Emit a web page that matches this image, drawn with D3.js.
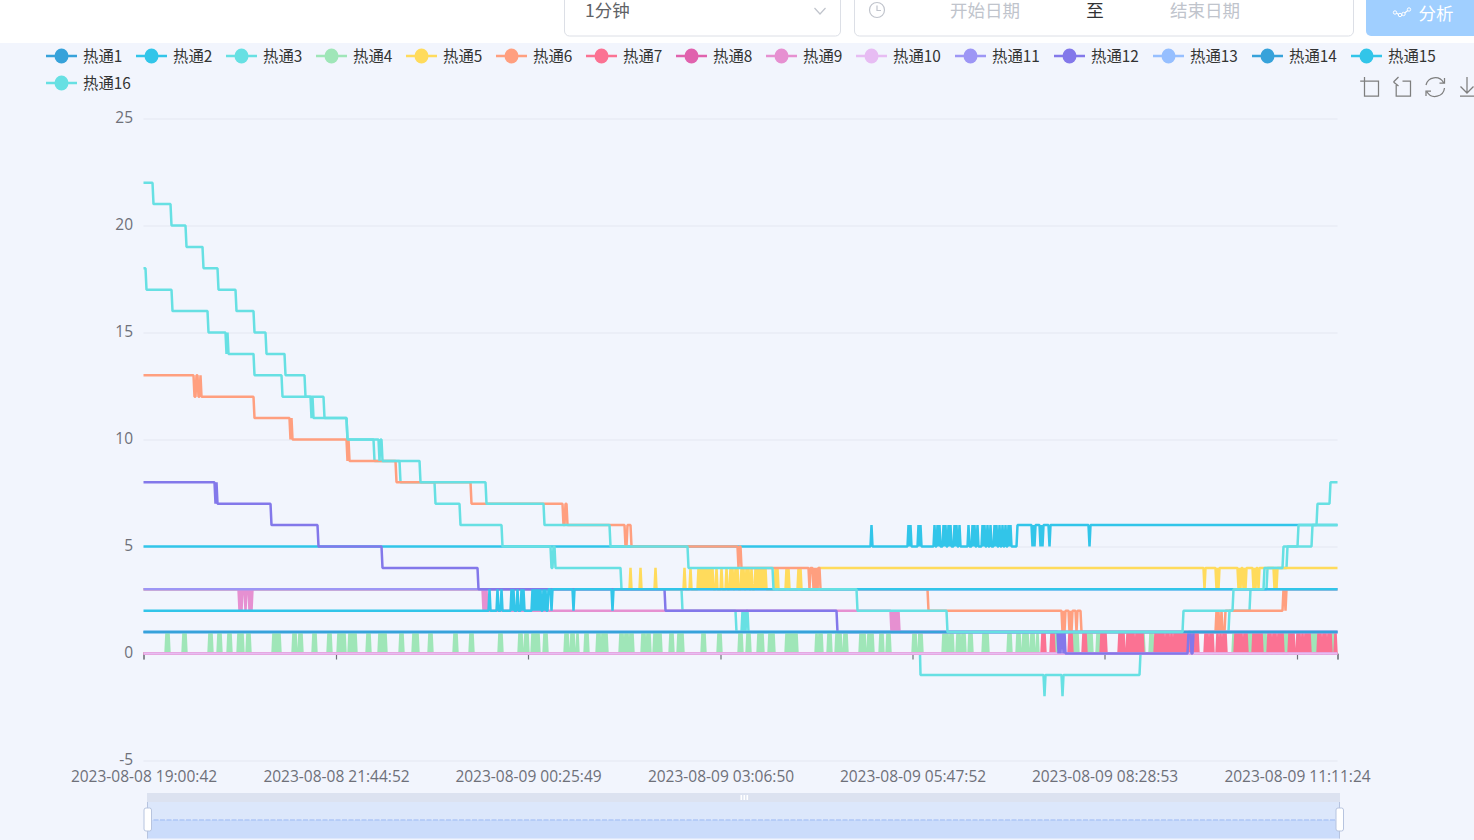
<!DOCTYPE html>
<html lang="zh"><head><meta charset="utf-8">
<script src="https://cdn.jsdelivr.net/npm/d3@7"></script>
<style>
html,body{margin:0;padding:0;background:#f2f5fd;overflow:hidden}
svg{display:block}
text{font-family:"Noto Sans CJK SC","Open Sans",sans-serif}
.num text,text.num{font-family:"Open Sans","Noto Sans CJK SC",sans-serif}
</style></head><body><svg id="c" width="1474" height="840"></svg>
<script>
// ---- data (sample index along the category axis) ----
// *Runs: [index, value] value held until the next change
// *Pulses: [from, to] stretches where the signal chatters between two levels
const seriesNames = ["热通1","热通2","热通3","热通4","热通5","热通6","热通7","热通8","热通9","热通10","热通11","热通12","热通13","热通14","热通15","热通16"];
const seriesColors = ["#37a2da","#32c5e9","#67e0e3","#9fe6b8","#ffdb5c","#ff9f7f","#fb7293","#e062ae","#e690d1","#e7bcf3","#9d96f5","#8378ea","#96bfff","#37a2da","#32c5e9","#67e0e3"];
const yTicks = [-5,0,5,10,15,20,25];
const sampleCount = 1194;
const xTickIndex = [0,192.5,384.5,577,769,961,1153.5,1194];
const xTickLabels = ["2023-08-08 19:00:42","2023-08-08 21:44:52","2023-08-09 00:25:49","2023-08-09 03:06:50","2023-08-09 05:47:52","2023-08-09 08:28:53","2023-08-09 11:11:24",""];

const hot1Runs = [[0,1]];
const hot2Up = [[727,729],[764,767],[774,777],[790,792],[793,796],[799,802],[804,808],[810,813],[815,817],[824,826],[828,831],[833,835],[838,841],[843,845],[846,848],[850,853],[855,857],[858,860],[861,863],[864,867]];
const hot2Down = [[888,891],[896,899],[905,907],[945,946]];
const hot3Runs = [[0,18],[2,17],[28,16],[64,15],[82,14],[83,15],[84,14],[110,13],[138,12],[167,11],[168,12],[169,11],[203,10],[230,9],[256,8],[291,7],[316,6],[358,5],[407,4],[409,5],[411,4],[477,3],[538,2],[592,1],[598,2],[599,1],[600,2],[601,1],[602,2],[604,1],[776,-1],[900,-2],[901,-1],[918,-2],[919,-1],[996,0],[1037,1],[1085,2],[1106,3],[1123,4],[1143,5],[1168,6],[1173,7],[1186,8]];
const hot4Pulses = [[22,25],[39,42],[65,68],[74,78],[84,87],[94,99],[103,107],[129,137],[149,152],[155,158],[169,172],[184,188],[194,201],[205,213],[223,227],[235,238],[239,243],[256,259],[269,274],[285,288],[310,313],[326,330],[355,359],[375,379],[381,385],[388,395],[400,404],[421,425],[427,431],[433,435],[441,444],[453,457],[458,464],[476,480],[481,485],[486,489],[498,502],[503,507],[510,518],[526,529],[534,540],[558,561],[574,577],[595,599],[603,606],[614,620],[625,631],[642,647],[648,653],[672,674],[675,679],[684,687],[692,697],[700,703],[716,721],[724,730],[736,740],[743,747],[769,773],[775,779],[799,804],[806,810],[813,817],[818,821],[825,829],[839,844],[864,867],[873,877],[879,885],[887,890],[893,895],[911,913],[929,934],[941,948],[953,956],[999,1000],[1006,1010],[1089,1091],[1104,1109],[1119,1123],[1139,1145],[1166,1173],[1188,1191]];
const hot5Up = [[486,488],[496,498],[511,513],[540,542],[546,548],[554,557],[558,561],[562,565],[566,569],[572,574],[577,579],[582,584],[586,590],[591,594],[597,601],[602,606],[607,609],[611,618],[619,623],[631,634],[642,645],[654,657]];
const hot5Down = [[1060,1062],[1072,1075],[1094,1097],[1099,1102],[1109,1112],[1114,1116],[1130,1133]];
const hot6RunsA = [[0,13],[50,12],[52,13],[54,12],[56,13],[57,12],[110,11],[146,10],[147,11],[148,10],[203,9],[204,10],[205,9],[252,8],[327,7],[419,6],[421,7],[423,6],[481,5],[483,6],[487,5],[594,4],[595,5],[597,4]];
const hot6Pulses4to3 = [[665,667],[669,672],[673,674]];
const hot6Pulses2to1 = [[918,922],[925,929],[932,934]];
const hot6Pulses1to2 = [[1072,1075],[1077,1079]];
const hot7Pulses = [[898,902],[907,910],[925,928],[939,942],[957,962],[975,980],[983,986],[987,990],[992,995],[996,999],[1011,1016],[1017,1021],[1022,1026],[1027,1029],[1030,1033],[1034,1039],[1040,1043],[1046,1049],[1051,1055],[1061,1064],[1066,1069],[1073,1075],[1076,1078],[1079,1083],[1091,1094],[1095,1099],[1100,1104],[1109,1112],[1113,1116],[1117,1119],[1124,1128],[1129,1133],[1134,1139],[1145,1151],[1153,1157],[1158,1160],[1161,1166],[1174,1178],[1179,1183],[1184,1188],[1191,1193]];
const hot8Runs = [[0,0]];
const hot9Pulses3to2 = [[95,99],[101,102],[105,108],[339,343]];
const hot9Pulses2to1 = [[747,755]];
const hot10Runs = [[0,0]];
const hot11Runs = [[0,3]];
const hot12Runs = [[0,8],[71,7],[72,8],[73,7],[127,6],[174,5],[238,4],[334,3],[521,2],[693,1],[914,0],[915,1],[916,0],[917,1],[919,0],[920,1],[921,0],[1044,1],[1047,0],[1049,1]];
const hot13Runs = [[0,1]];
const hot14Runs = [[0,1]];
const hot15Up = [[345,347],[353,354],[357,358],[367,371],[373,375],[377,380],[388,393],[394,398],[399,402]];
const hot15Down = [[407,408],[429,430],[468,469]];
const hot16Runs = [[0,22],[9,21],[27,20],[42,19],[59,18],[74,17],[92,16],[110,15],[122,14],[141,13],[161,12],[180,11],[203,10],[235,9],[236,10],[238,9],[276,8],[342,7],[400,6],[466,5],[544,4],[629,3],[713,2],[803,1],[1039,2],[1089,3],[1120,4],[1139,5],[1154,6]];

// ---- helpers ----
// one stretch of chatter: up and down every sample between base and peak
const pulseRuns = (list, base, peak) => {
  const runs = [];
  list.forEach(([a, b]) => {
    for (let k = a; k < b; k += 2) { runs.push([k, peak]); runs.push([k + 1, base]); }
  });
  return runs;
};
const toPoints = runs => {
  const pts = [];
  runs.forEach(([i, v], k) => {
    if (k > 0) pts.push([i, runs[k - 1][1]]);
    pts.push([i + 1, v]);
  });
  pts[0][0] = 0;
  pts.push([sampleCount, runs[runs.length - 1][1]]);
  return pts;
};
const allRuns = [
  hot1Runs,
  [[0,5], ...pulseRuns(hot2Up,5,6), [873,6], ...pulseRuns(hot2Down,6,5)],
  hot3Runs,
  [[0,0], ...pulseRuns(hot4Pulses,0,1)],
  [[0,3], ...pulseRuns(hot5Up,3,4), [674,4], ...pulseRuns(hot5Down,4,3)],
  [...hot6RunsA, ...pulseRuns(hot6Pulses4to3,4,3), [676,3], [784,2], ...pulseRuns(hot6Pulses2to1,2,1), [937,1], ...pulseRuns(hot6Pulses1to2,1,2), [1081,2], [1139,3], [1141,2], [1142,3]],
  [[0,0], ...pulseRuns(hot7Pulses,0,1)],
  hot8Runs,
  [[0,3], ...pulseRuns(hot9Pulses3to2,3,2), [343,2], ...pulseRuns(hot9Pulses2to1,2,1), [755,1]],
  hot10Runs, hot11Runs, hot12Runs, hot13Runs, hot14Runs,
  [[0,2], ...pulseRuns(hot15Up,2,3), [404,3], ...pulseRuns(hot15Down,3,2)],
  hot16Runs
];

// ---- layout ----
const svg = d3.select("#c");
const plotLeft = 143.5, plotRight = 1337.5, plotTop = 118.5, plotBottom = 760.5;
const x = d3.scaleLinear().domain([0, sampleCount]).range([plotLeft, plotRight]);
const y = d3.scaleLinear().domain([-5, 25]).range([plotBottom, plotTop]);
const axisColor = "#6e7079";

// header
const head = svg.append("g");
head.append("rect").attr("width", 1474).attr("height", 43).attr("fill", "#fff");
head.append("rect").attr("x", 564.5).attr("y", -6).attr("width", 276).attr("height", 42).attr("rx", 5).attr("fill", "#fff").attr("stroke", "#dcdfe6");
head.append("rect").attr("x", 854.5).attr("y", -6).attr("width", 499).attr("height", 42).attr("rx", 5).attr("fill", "#fff").attr("stroke", "#dcdfe6");
head.append("rect").attr("x", 1366).attr("y", -6).attr("width", 120).attr("height", 42).attr("rx", 5).attr("fill", "#a0cfff");
const headText = (t, xp, fill, anchor) => head.append("text").attr("x", xp).attr("y", 17).attr("fill", fill).attr("font-size", 17.5).attr("text-anchor", anchor || "middle").text(t);
headText("1分钟", 585, "#606266", "start");
headText("开始日期", 985, "#c0c4cc");
headText("至", 1095, "#303133");
headText("结束日期", 1205, "#c0c4cc");
headText("分析", 1436, "#fff").attr("y", 20);
head.append("path").attr("d", "M814.5 8l5.5 6 5.5-6").attr("fill", "none").attr("stroke", "#c0c4cc").attr("stroke-width", 1.2);
head.append("circle").attr("cx", 877).attr("cy", 10).attr("r", 7.5).attr("fill", "none").attr("stroke", "#c0c4cc").attr("stroke-width", 1.2);
head.append("path").attr("d", "M877 5.5v5h4").attr("fill", "none").attr("stroke", "#c0c4cc").attr("stroke-width", 1.2);
head.append("path").attr("d", "M1395 12.5l5 2.5 3.5-1 5.5-4.5").attr("fill", "none").attr("stroke", "#fff").attr("stroke-width", 1.2);
[[1395,12.5],[1400,15],[1403.5,14],[1409,9.5]].forEach(p => head.append("circle").attr("cx", p[0]).attr("cy", p[1]).attr("r", 1.7).attr("fill", "#a0cfff").attr("stroke", "#fff").attr("stroke-width", 1));

// grid and y axis
const gridG = svg.append("g").attr("transform", `translate(${plotLeft},0)`)
  .call(d3.axisLeft(y).tickValues(yTicks).tickSize(-(plotRight - plotLeft)).tickFormat(""));
gridG.select(".domain").remove();
gridG.selectAll("line").attr("stroke", "#e3e7f2").attr("stroke-width", 1.2);
const yG = svg.append("g").attr("class", "num").attr("transform", `translate(${plotLeft - 10.5},0)`)
  .call(d3.axisLeft(y).tickValues(yTicks).tickSize(0).tickPadding(0).tickFormat(d => String(d)));
yG.select(".domain").remove();
yG.selectAll("text").attr("fill", axisColor).attr("font-size", 15.5).attr("y", -1).attr("dy", "0.32em");

// x axis (ticks at the zero line, labels under the plot)
const xG = svg.append("g").attr("class", "num").attr("transform", `translate(0,${y(0)})`)
  .call(d3.axisBottom(x).tickValues(xTickIndex).tickSize(6).tickFormat((d, i) => xTickLabels[i]));
xG.select(".domain").attr("stroke", axisColor);
xG.selectAll("line").attr("stroke", axisColor).attr("stroke-width", 1.2);
xG.selectAll("text").attr("y", 128.5).attr("dy", 0).attr("fill", axisColor).attr("font-size", 15.5);

// series
const lineGen = d3.line().x(d => x(d[0])).y(d => y(d[1]));
svg.append("g").selectAll("path").data(allRuns).join("path")
  .attr("d", d => lineGen(toPoints(d)))
  .attr("fill", "none")
  .attr("stroke", (d, i) => seriesColors[i])
  .attr("stroke-width", 2.5)
  .attr("stroke-linejoin", "bevel");

// legend
const legend = svg.append("g");
let lx = 46, ly = 56;
seriesNames.forEach((name, i) => {
  const pitch = 90 + (name.length - 3) * 9;
  if (lx + pitch > 1474) { lx = 46; ly += 27; }
  const g = legend.append("g").attr("transform", `translate(${lx},${ly})`);
  g.append("line").attr("x1", 0).attr("x2", 31).attr("stroke", seriesColors[i]).attr("stroke-width", 2.5);
  g.append("ellipse").attr("cx", 15.5).attr("cy", 0).attr("rx", 7).attr("ry", 7.5).attr("fill", seriesColors[i]);
  g.append("text").attr("x", 37).attr("y", 5.5).attr("fill", "#333").attr("font-size", 15.4).text(name);
  lx += pitch;
});

// toolbox
const tool = svg.append("g").attr("fill", "none").attr("stroke", "#7e7e7e").attr("stroke-width", 1.25).attr("transform", "translate(-0.5,0)");
tool.append("path").attr("d", "M1360.7 81H1379V96H1365V77");
tool.append("path").attr("d", "M1403 81H1411V96H1396.7V85M1394 82l5-5M1394 82l5 4");
tool.append("path").attr("d", "M1426.5 85A9.5 9.5 0 0 1 1444 82.5M1445 88A9.5 9.5 0 0 1 1427.5 92M1445 78v5h-5M1426.5 96v-5h5");
tool.append("path").attr("d", "M1467.5 77V93M1461 86.5l6.5 6.5 6.5-6.5M1460.5 96H1480");

// data zoom
const dz = svg.append("g");
dz.append("rect").attr("x", 147).attr("y", 793).attr("width", 1193).attr("height", 9).attr("fill", "#dce2f0");
dz.append("rect").attr("x", 147).attr("y", 802).attr("width", 1193).attr("height", 18).attr("fill", "#dce7fb");
dz.append("rect").attr("x", 147).attr("y", 820).attr("width", 1193).attr("height", 18.5).attr("fill", "#cbdcfb");
dz.append("line").attr("x1", 147).attr("x2", 1340).attr("y1", 820).attr("y2", 820).attr("stroke", "#aec6f6").attr("stroke-width", 1.5).attr("stroke-dasharray", "5 1.5");
[147.5, 1339.5].forEach(hx => {
  dz.append("line").attr("x1", hx).attr("x2", hx).attr("y1", 802).attr("y2", 838.5).attr("stroke", "#b7c4df");
  dz.append("rect").attr("x", hx - 3.5).attr("y", 808).attr("width", 7.5).attr("height", 23).attr("rx", 2).attr("fill", "#fff").attr("stroke", "#b7c4df");
});
[740.5, 743.5, 746.5].forEach(gx => dz.append("rect").attr("x", gx).attr("y", 795).attr("width", 1.6).attr("height", 5).attr("fill", "#fff"));
</script></body></html>
